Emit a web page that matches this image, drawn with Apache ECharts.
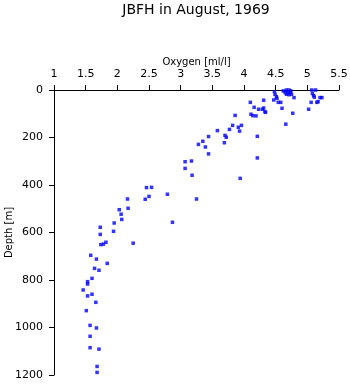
<!DOCTYPE html>
<html>
<head>
<meta charset="utf-8">
<script src="https://cdn.jsdelivr.net/npm/echarts@6/dist/echarts.min.js"></script>
<style>html,body{margin:0;padding:0;background:#fff}#c{width:350px;height:384px}</style>
</head>
<body>
<div id="c"></div>
<script>
var oxygen = [4.48,4.49,4.51,4.52,4.47,4.54,4.58,4.62,4.67,4.71,4.74,4.65,4.69,4.73,4.67,4.71,4.75,4.79,4.33,4.60,4.77,5.02,5.07,5.13,5.08,5.10,5.11,5.20,5.23,5.06,5.15,5.17,
  4.10,4.31,4.16,4.23,4.29,4.31,4.34,4.11,4.14,4.19,3.86,4.66,3.82,3.96,3.91,3.77,3.58,3.93,4.21,3.70,3.72,3.44,3.35,3.28,3.69,3.39,3.44,4.21,3.07,3.17,3.07,3.18,3.94,3.25,
  2.46,2.54,2.50,2.44,2.79,2.16,2.03,2.06,2.17,2.07,1.95,2.87,1.73,1.94,1.73,1.74,1.78,1.82,2.25,1.58,1.67,1.84,1.64,1.71,1.60,1.60,
  1.53,1.53,1.46,1.53,1.66,1.51,1.57,1.67,1.57,1.57,1.71,1.68,1.68];
var depth = [7,18,28,35,42,52,52,4,0,0,4,11,11,11,18,20,18,32,91,77,98,81,0,0,15,24,30,32,32,52,52,49,
  52,43,73,81,81,76,94,102,108,109,107,144,149,149,157,166,171,173,195,191,199,196,216,229,222,240,269,286,302,299,330,359,372,459,
  411,410,448,460,439,459,504,523,498,545,560,557,578,595,608,651,649,641,645,696,712,730,751,759,793,860,
  807,817,842,867,894,929,991,1002,1037,1085,1091,1164,1189];
var xTicks = {min: 1, max: 5.5, interval: 0.5};
var yTicks = {min: 0, max: 1200, interval: 200};

var pts = oxygen.map(function(o, i){ return [o, depth[i]]; });
var font = 'DejaVu Sans, Liberation Sans, sans-serif';
var chart = echarts.init(document.getElementById('c'));
chart.setOption({
  animation: false,
  title: {text: 'JBFH in August, 1969', left: 196, textAlign: 'center', top: 3, padding: 0,
    textStyle: {fontFamily: font, fontSize: 14, fontWeight: 'normal', color: '#000'}},
  grid: {left: 54, right: 11, top: 90, bottom: 9, containLabel: false, outerBoundsMode: 'none'},
  xAxis: {type: 'value', position: 'top', min: xTicks.min, max: xTicks.max, interval: xTicks.interval,
    name: 'Oxygen [ml/l]', nameLocation: 'middle', nameGap: 23, nameMoveOverlap: false,
    nameTextStyle: {fontFamily: font, fontSize: 10, color: '#000'},
    axisLine: {show: true, onZero: false, lineStyle: {color: '#000', width: 1}},
    axisTick: {show: true, length: 5, lineStyle: {color: '#000'}},
    axisLabel: {fontFamily: font, fontSize: 11, color: '#000', margin: 10},
    splitLine: {show: false}},
  yAxis: {type: 'value', inverse: true, min: yTicks.min, max: yTicks.max, interval: yTicks.interval,
    name: 'Depth [m]', nameLocation: 'middle', nameGap: 40, nameRotate: 90, nameMoveOverlap: false,
    nameTextStyle: {fontFamily: font, fontSize: 10, color: '#000'},
    axisLine: {show: true, onZero: false, lineStyle: {color: '#000', width: 1}},
    axisTick: {show: true, length: 5, lineStyle: {color: '#000'}},
    axisLabel: {fontFamily: font, fontSize: 11, color: '#000', margin: 11,
      formatter: function(v){ return String(v); }},
    splitLine: {show: false}},
  series: [{type: 'scatter', data: pts, symbol: 'rect', symbolSize: 3.5,
    itemStyle: {color: '#0000ff'}}]
});
</script>
</body>
</html>
